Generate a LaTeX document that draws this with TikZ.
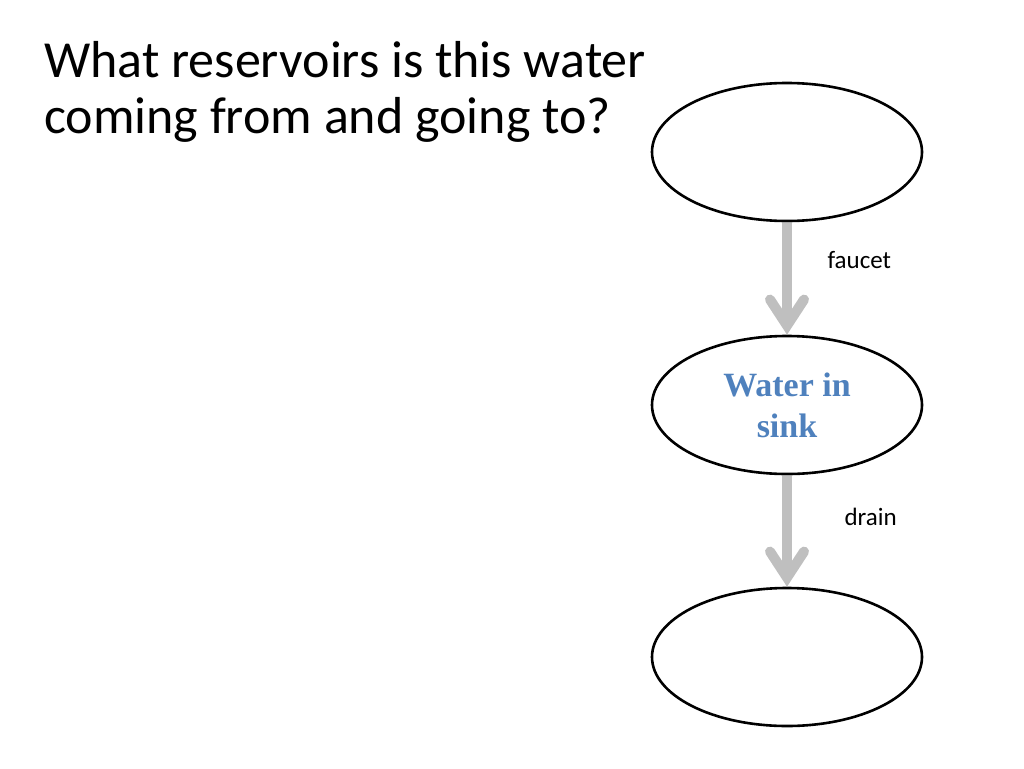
\documentclass[tikz,border=0pt]{standalone}
\usepackage{fontspec}
\setmainfont{Carlito}
\newfontfamily\serifbold{Liberation Serif}
\usetikzlibrary{shapes.geometric,arrows.meta}
\definecolor{flowgray}{RGB}{191,191,191}
\definecolor{sinkblue}{RGB}{79,129,189}
\tikzset{
  reservoir/.style={ellipse, draw=black, line width=2.6pt, minimum width=270pt, minimum height=138pt, inner sep=0pt},
  flow/.style={draw=flowgray, line width=10pt, -{Straight Barb[length=26pt, width=34pt, line cap=round, line width=10pt]}, shorten <=1pt},
  flowlabel/.style={font=\fontsize{25}{30}\selectfont, anchor=west}
}
\begin{document}
\begin{tikzpicture}[x=1pt,y=-1pt]
\useasboundingbox (0,0) rectangle (1024,768);
\node[anchor=north west, align=left, inner sep=0pt, font=\fontsize{52}{56}\selectfont] (title) at (44,41) {What reservoirs is this water\\coming from and going to?};
\node[reservoir] (top) at (787,152) {};
\node[reservoir, align=center, text=sinkblue, font=\serifbold\bfseries\fontsize{34}{41}\selectfont] (mid) at (787,405) {Water in\\sink};
\node[reservoir] (bot) at (787,657) {};
\draw[flow] (top.south) -- (mid.north);
\draw[flow] (mid.south) -- (bot.north);
\node[flowlabel] (faucet) at (824,260) {faucet};
\node[flowlabel] (drain) at (841,517) {drain};
\end{tikzpicture}
\end{document}
